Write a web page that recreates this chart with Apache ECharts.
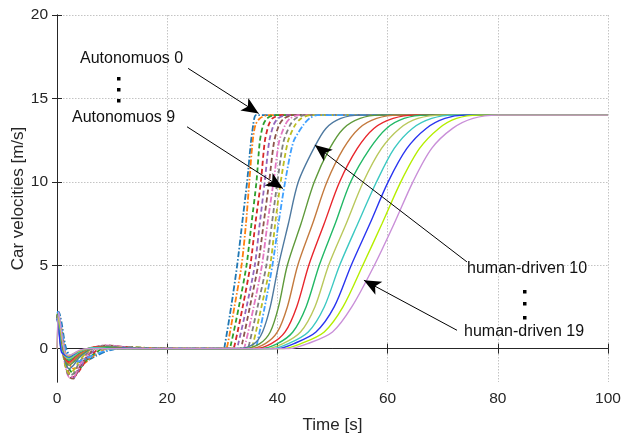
<!DOCTYPE html>
<html>
<head>
<meta charset="utf-8">
<script src="https://cdn.jsdelivr.net/npm/echarts@6/dist/echarts.min.js"></script>
<style>html,body{margin:0;padding:0;background:#fff}#c{width:621px;height:436px}</style>
</head>
<body>
<div id="c"></div>
<script>
// ---- data ----
const xTicks = [0, 20, 40, 60, 80, 100];
const yTicks = [0, 5, 10, 15, 20];

// start-up transient: shared times, per-series velocities
const transT = [0, 0.3, 0.8, 1.5, 2.2, 3, 4, 5.5, 7, 9, 12, 16, 22];
const autoTrans = [
  [2.2, 2.2, 1.6, 0.2, -0.4, -0.7, -0.8, -0.7, -0.45, -0.15, 0.05, 0.0, 0],
  [2.1, 2.0, 1.2, -0.2, -0.9, -1.2, -1.1, -0.75, -0.35, 0, 0.1, 0.05, 0],
  [2.1, 1.9, 1.0, -0.5, -1.2, -1.5, -1.25, -0.65, -0.25, 0.1, 0.1, 0.05, 0],
  [2.0, 1.8, 0.8, -0.7, -1.5, -1.7, -1.35, -0.6, -0.15, 0.15, 0.1, 0, 0],
  [2.0, 1.8, 0.7, -0.8, -1.6, -1.75, -1.25, -0.5, -0.05, 0.15, 0.1, 0, 0],
  [2.0, 1.7, 0.6, -0.9, -1.7, -1.8, -1.15, -0.45, 0.05, 0.2, 0.1, 0, 0],
  [2.0, 1.7, 0.5, -1.0, -1.7, -1.7, -1.05, -0.35, 0.1, 0.2, 0.1, 0, 0],
  [2.0, 1.6, 0.4, -1.0, -1.6, -1.5, -0.85, -0.25, 0.1, 0.15, 0.05, 0, 0],
  [2.0, 1.6, 0.3, -1.0, -1.5, -1.3, -0.75, -0.2, 0.1, 0.1, 0.05, 0, 0],
  [2.2, 2.1, 1.2, -0.1, -0.6, -0.8, -0.75, -0.55, -0.35, -0.1, 0, 0, 0]
];
const humanTrans = [
  [2.0, 1.6, 0.3, -0.8, -1.2, -1.0, -0.55, -0.15, 0.1, 0.1, 0.05, 0, 0],
  [2.0, 1.5, 0.2, -0.7, -1.0, -0.8, -0.45, -0.1, 0.1, 0.1, 0, 0, 0],
  [1.9, 1.5, 0.1, -0.6, -0.9, -0.7, -0.4, -0.05, 0.1, 0.05, 0, 0, 0],
  [1.9, 1.4, 0.0, -0.6, -0.8, -0.6, -0.3, 0, 0.1, 0.05, 0, 0, 0],
  [1.9, 1.4, 0.0, -0.5, -0.7, -0.5, -0.25, 0, 0.05, 0.05, 0, 0, 0],
  [1.8, 1.3, -0.1, -0.5, -0.6, -0.45, -0.2, 0, 0.05, 0, 0, 0, 0],
  [1.8, 1.3, -0.1, -0.45, -0.55, -0.4, -0.2, 0, 0.05, 0, 0, 0, 0],
  [1.8, 1.2, -0.2, -0.4, -0.5, -0.35, -0.15, 0, 0, 0, 0, 0, 0],
  [0, 1.9, 0.8, -0.3, -0.45, -0.3, -0.15, 0, 0, 0, 0, 0, 0],
  [0, 2.2, 1.0, -0.3, -0.4, -0.3, -0.1, 0, 0, 0, 0, 0, 0]
];

// acceleration phase: velocity levels and the time each series reaches them
const autoLevels = [0, 0.3, 2.5, 5, 7.5, 10, 12.4, 13.4, 13.8, 14];
const autoTimes = [
  [30.2, 30.5, 31.6, 32.7, 33.6, 34.5, 35.2, 35.6, 35.8, 36.1],
  [30.6, 31.0, 32.2, 33.5, 34.3, 34.9, 35.5, 36.0, 36.8, 38.3],
  [31.2, 31.6, 33.0, 34.4, 35.3, 36.2, 36.8, 37.4, 38.1, 39.5],
  [31.9, 32.3, 33.7, 35.1, 36.0, 37.0, 37.7, 38.4, 39.1, 40.6],
  [32.5, 32.9, 34.4, 35.9, 36.8, 37.7, 38.5, 39.3, 40.1, 41.6],
  [33.2, 33.6, 35.0, 36.5, 37.5, 38.5, 39.4, 40.3, 41.2, 42.8],
  [33.8, 34.2, 35.7, 37.2, 38.2, 39.3, 40.3, 41.4, 42.3, 44.0],
  [34.5, 34.9, 36.4, 38.0, 39.0, 40.0, 41.1, 42.3, 43.3, 45.0],
  [35.2, 35.6, 37.1, 38.7, 39.6, 40.6, 41.9, 43.2, 44.3, 46.0],
  [35.9, 36.3, 37.7, 39.1, 40.2, 41.4, 42.9, 44.7, 45.8, 47.2]
];
const humanLevels = [0, 0.3, 1, 2.5, 5, 7.5, 10, 12, 13.2, 13.8, 14];
const humanTimes = [
  [33.0, 35.8, 37.3, 38.7, 40.2, 42.0, 43.8, 46.6, 48.8, 51.5, 55.0],
  [34.0, 36.8, 38.7, 40.2, 41.8, 44.3, 46.7, 49.5, 52.0, 55.0, 58.5],
  [35.0, 37.8, 40.0, 41.8, 43.7, 46.4, 49.0, 52.0, 54.8, 58.0, 62.0],
  [36.0, 38.9, 41.4, 43.5, 45.7, 48.5, 51.3, 54.5, 57.5, 61.0, 65.0],
  [37.0, 40.0, 42.8, 45.2, 47.6, 50.5, 53.3, 56.8, 59.8, 63.0, 67.0],
  [38.0, 41.0, 44.2, 46.8, 49.3, 52.5, 55.6, 58.9, 62.2, 65.5, 70.0],
  [39.0, 42.0, 45.6, 48.5, 51.3, 54.6, 58.0, 61.2, 64.5, 68.0, 72.0],
  [40.0, 43.0, 47.0, 50.3, 53.4, 56.8, 60.1, 63.5, 67.0, 70.4, 74.0],
  [41.0, 44.3, 48.5, 51.9, 55.5, 59.0, 62.4, 65.8, 69.3, 72.5, 76.5],
  [42.0, 45.5, 50.0, 53.5, 57.6, 61.2, 64.6, 68.0, 71.8, 75.5, 80.0]
];
const endPoint = [100, 14];

// annotation arrows [from, to] in data coordinates
const arrows = [
  [[23.8, 16.8], [36.6, 14.1]],
  [[23.6, 13.3], [41.0, 9.6]],
  [[74.4, 5.2], [46.8, 12.2]],
  [[72.6, 1.1], [55.7, 4.1]]
];

// ---- styles ----
const autoColors = ['#1f77b4','#ff7f0e','#2ca02c','#d62728','#9467bd','#8c564b','#e377c2','#7f7f7f','#bcbd22','#3fa0ff'];
const humanColors = ['#4e79a0','#5f9a3b','#c47a3e','#e8262c','#22b866','#b9c85c','#3cc8c2','#2a35f0','#b5ee00','#c98fd8'];
const dashDot = [6, 2, 1.5, 2];
const dashed = [5, 3];
const autoDash = [dashDot, dashDot, dashed, dashed, dashed, dashed, dashDot, dashed, dashed, dashDot];

function build(trans, levels, times) {
  const pts = transT.map((t, i) => [t, trans[i]]);
  times.forEach((t, i) => pts.push([t, levels[i]]));
  pts.push(endPoint.slice());
  return pts;
}

const series = [];
for (let i = 0; i < 10; i++) {
  series.push({
    type: 'line', name: 'Autonomuos ' + i, showSymbol: false, smooth: 0.25,
    data: build(autoTrans[i], autoLevels, autoTimes[i]),
    lineStyle: { color: autoColors[i], width: 1.8, type: autoDash[i] },
    z: 2
  });
}
for (let i = 0; i < 10; i++) {
  series.push({
    type: 'line', name: 'human-driven ' + (10 + i), showSymbol: false, smooth: 0.3,
    data: build(humanTrans[i], humanLevels, humanTimes[i]),
    lineStyle: { color: humanColors[i], width: 1.4, type: 'solid' },
    z: 2
  });
}
series[0].markLine = {
  silent: true, animation: false,
  symbol: ['none', 'arrow'], symbolSize: [11, 17],
  label: { show: false },
  lineStyle: { color: '#000', width: 1, type: 'solid' },
  data: arrows.map(a => [{ coord: a[0] }, { coord: a[1] }])
};

const font = 'Liberation Sans, Arial, sans-serif';
const txt = '#262626';
const gridLine = { show: true, lineStyle: { color: '#c4c4c4', type: [1.5, 1.5], width: 1 } };
const axisLineStyle = { show: true, lineStyle: { color: '#262626', width: 1 } };

const chart = echarts.init(document.getElementById('c'), null, { renderer: 'canvas' });
chart.setOption({
  animation: false,
  backgroundColor: '#fff',
  grid: { left: 57, right: 13, top: 15, bottom: 54, containLabel: false, outerBoundsMode: 'none' },
  xAxis: [
    { type: 'value', min: 0, max: 100, interval: 20,
      name: 'Time [s]', nameLocation: 'middle', nameGap: 35, nameMoveOverlap: false,
      nameTextStyle: { fontFamily: font, fontSize: 17, color: txt },
      axisLine: axisLineStyle, axisTick: { inside: true, length: 5, lineStyle: { color: '#262626' } },
      axisLabel: { fontFamily: font, fontSize: 15.5, color: txt, margin: 9 },
      splitLine: gridLine },
    { type: 'value', position: 'top', min: 0, max: 100, interval: 20,
      axisLine: axisLineStyle, axisTick: { inside: true, length: 5, lineStyle: { color: '#262626' } },
      axisLabel: { show: false }, splitLine: { show: false } }
  ],
  yAxis: [
    { type: 'value', min: -2, max: 20,
      name: 'Car velocities [m/s]', nameLocation: 'middle', nameGap: 30, nameMoveOverlap: false,
      nameTextStyle: { fontFamily: font, fontSize: 17, color: txt },
      axisLine: axisLineStyle,
      axisTick: { inside: true, length: 5, customValues: yTicks, lineStyle: { color: '#262626' } },
      axisLabel: { fontFamily: font, fontSize: 15.5, color: txt, margin: 9, customValues: yTicks },
      splitLine: gridLine },
    { type: 'value', position: 'right', min: -2, max: 20,
      axisLine: axisLineStyle,
      axisTick: { inside: true, length: 5, customValues: yTicks, lineStyle: { color: '#262626' } },
      axisLabel: { show: false, customValues: yTicks }, splitLine: { show: false } }
  ],
  series: series,
  graphic: [
    { type: 'text', left: 80, top: 51, z: 100, style: { text: 'Autonomuos 0', font: '16px ' + font, fill: '#111' } },
    { type: 'text', left: 72, top: 110, z: 100, style: { text: 'Autonomuos 9', font: '16px ' + font, fill: '#111' } },
    { type: 'text', left: 467, top: 261, z: 100, style: { text: 'human-driven 10', font: '16px ' + font, fill: '#111' } },
    { type: 'text', left: 464, top: 324, z: 100, style: { text: 'human-driven 19', font: '16px ' + font, fill: '#111' } },
    { type: 'rect', z: 100, shape: { x: 117, y: 77, width: 3.5, height: 3.5 }, style: { fill: '#000' } },
    { type: 'rect', z: 100, shape: { x: 117, y: 88, width: 3.5, height: 3.5 }, style: { fill: '#000' } },
    { type: 'rect', z: 100, shape: { x: 117, y: 99, width: 3.5, height: 3.5 }, style: { fill: '#000' } },
    { type: 'rect', z: 100, shape: { x: 523, y: 290, width: 3.5, height: 3.5 }, style: { fill: '#000' } },
    { type: 'rect', z: 100, shape: { x: 523, y: 302, width: 3.5, height: 3.5 }, style: { fill: '#000' } },
    { type: 'rect', z: 100, shape: { x: 523, y: 316, width: 3.5, height: 3.5 }, style: { fill: '#000' } }
  ]
});
</script>
</body>
</html>
